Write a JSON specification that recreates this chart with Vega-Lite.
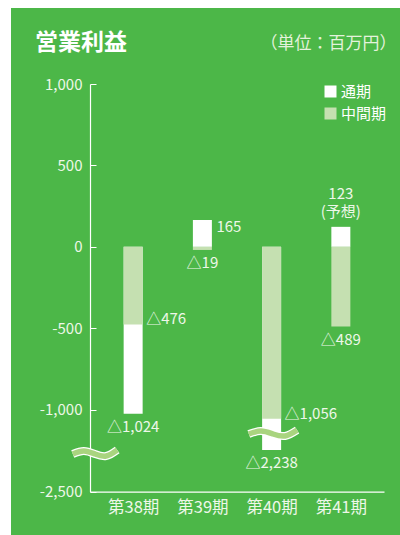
{
  "$schema": "https://vega.github.io/schema/vega-lite/v6.json",
  "width": 389,
  "height": 527,
  "autosize": "none",
  "padding": {"left": 11, "top": 8, "right": 0, "bottom": 0},
  "background": "#ffffff",
  "title": {
    "text": "営業利益",
    "anchor": "start",
    "frame": "group",
    "orient": "top",
    "offset": -34,
    "baseline": "middle",
    "dx": 24,
    "dy": 24,
    "fontSize": 23,
    "fontWeight": "bold",
    "color": "#ffffff",
    "font": "Noto Sans CJK JP"
  },
  "config": {
    "view": {"fill": "#4cb748", "stroke": null},
    "font": "Noto Sans CJK JP",
    "axis": {
      "domainColor": "#ffffff",
      "tickColor": "#ffffff",
      "labelColor": "#eef7e9",
      "labelFontSize": 15,
      "labelFont": "Noto Sans CJK JP",
      "grid": false,
      "labelOverlap": false
    },
    "text": {"font": "Noto Sans CJK JP", "fontSize": 15, "color": "#eef7e9"}
  },
  "datasets": {
    "bars": [
      {"period": "第38期", "idx": 1, "type": "通期", "value": -1024, "label": "△1,024"},
      {"period": "第39期", "idx": 2, "type": "通期", "value": 165, "label": "165"},
      {"period": "第40期", "idx": 3, "type": "通期", "value": -2238, "label": "△2,238"},
      {"period": "第41期", "idx": 4, "type": "通期", "value": 123, "label": "123\n(予想)"},
      {"period": "第38期", "idx": 1, "type": "中間期", "value": -476, "label": "△476"},
      {"period": "第39期", "idx": 2, "type": "中間期", "value": -19, "label": "△19"},
      {"period": "第40期", "idx": 3, "type": "中間期", "value": -1056, "label": "△1,056"},
      {"period": "第41期", "idx": 4, "type": "中間期", "value": -489, "label": "△489"}
    ],
    "breaks": [
      {"grp": "axis", "u": 0.128, "v": -2263},
      {"grp": "axis", "u": 0.288, "v": -2244},
      {"grp": "axis", "u": 0.449, "v": -2263},
      {"grp": "axis", "u": 0.609, "v": -2276},
      {"grp": "axis", "u": 0.770, "v": -2238},
      {"grp": "bar", "u": 2.671, "v": -1149},
      {"grp": "bar", "u": 2.845, "v": -1131},
      {"grp": "bar", "u": 3.020, "v": -1149},
      {"grp": "bar", "u": 3.194, "v": -1161},
      {"grp": "bar", "u": 3.368, "v": -1125}
    ]
  },
  "layer": [
    {
      "data": {"name": "bars"},
      "mark": {"type": "bar", "orient": "vertical", "size": 19},
      "encoding": {
        "x": {
          "field": "idx",
          "type": "quantitative",
          "scale": {"domain": [0.449, 4.551], "range": [79, 373], "nice": false, "zero": false},
          "axis": {
            "orient": "bottom",
            "offset": -43.3,
            "values": [1, 2, 3, 4],
            "labelExpr": "'第' + (37 + datum.value) + '期'",
            "ticks": false,
            "labelPadding": 8,
            "labelBaseline": "top",
            "labelFlush": false,
            "labelFontSize": 16.5,
            "title": null,
            "domainWidth": 1.2
          }
        },
        "y": {
          "field": "value",
          "type": "quantitative",
          "stack": null,
          "scale": {"domain": [-2500, -2238, -1200, 1000], "range": [483.7, 442, 434.3, 76], "nice": false, "zero": false},
          "axis": {
            "orient": "left",
            "offset": -79,
            "values": [1000, 500, 0, -500, -1000, -2500],
            "labelExpr": "datum.value < 0 ? '-' + format(-datum.value, ',') : format(datum.value, ',')",
            "tickSize": -6,
            "labelPadding": 14,
            "labelFlush": false,
            "domainWidth": 1.2,
            "title": "（単位：百万円）",
            "titleAngle": 0,
            "titleAlign": "right",
            "titleBaseline": "middle",
            "titleX": 306,
            "titleY": 35,
            "titleFontSize": 17,
            "titleFontWeight": "normal",
            "titleColor": "#e4f2dc",
            "titleFont": "Noto Sans CJK JP"
          }
        },
        "y2": {"datum": 0},
        "color": {
          "field": "type",
          "type": "nominal",
          "scale": {"domain": ["通期", "中間期"], "range": ["#ffffff", "#c5e0b1"]},
          "legend": {
            "orient": "none",
            "legendX": 312,
            "legendY": 76,
            "title": null,
            "symbolType": "square",
            "symbolSize": 144,
            "symbolStrokeWidth": 0,
            "symbolOpacity": 1,
            "labelFontSize": 15,
            "labelColor": "#ffffff",
            "labelFont": "Noto Sans CJK JP",
            "labelOffset": 3,
            "rowPadding": 6,
            "padding": 0
          }
        }
      }
    },
    {
      "data": {"name": "breaks"},
      "mark": {"type": "line", "interpolate": "natural", "color": "#ffffff", "strokeWidth": 8, "strokeCap": "butt"},
      "encoding": {
        "x": {"field": "u", "type": "quantitative"},
        "y": {"field": "v", "type": "quantitative"},
        "detail": {"field": "grp", "type": "nominal"}
      }
    },
    {
      "data": {"name": "breaks"},
      "mark": {"type": "line", "interpolate": "natural", "color": "#a9d47f", "strokeWidth": 5.5, "strokeCap": "butt"},
      "encoding": {
        "x": {"field": "u", "type": "quantitative"},
        "y": {"field": "v", "type": "quantitative"},
        "detail": {"field": "grp", "type": "nominal"}
      }
    },
    {
      "mark": {"type": "rule", "color": "#ffffff", "strokeWidth": 2},
      "encoding": {
        "x": {"datum": 0.449, "type": "quantitative"},
        "x2": {"datum": 4.551},
        "y": {"datum": 0, "type": "quantitative"}
      }
    },
    {
      "data": {"name": "bars"},
      "transform": [{"filter": "datum.type == '中間期' && (datum.idx == 1 || datum.idx == 3)"}],
      "mark": {"type": "text", "align": "left", "baseline": "middle", "dx": 13, "dy": -5},
      "encoding": {
        "x": {"field": "idx", "type": "quantitative"},
        "y": {"field": "value", "type": "quantitative"},
        "text": {"field": "label"}
      }
    },
    {
      "data": {"name": "bars"},
      "transform": [{"filter": "datum.type == '通期' && datum.idx == 2"}],
      "mark": {"type": "text", "align": "left", "baseline": "middle", "dx": 14, "dy": 7},
      "encoding": {
        "x": {"field": "idx", "type": "quantitative"},
        "y": {"field": "value", "type": "quantitative"},
        "text": {"field": "label"}
      }
    },
    {
      "data": {"name": "bars"},
      "transform": [{"filter": "(datum.type == '通期' && (datum.idx == 1 || datum.idx == 3)) || (datum.type == '中間期' && (datum.idx == 2 || datum.idx == 4))"}],
      "mark": {"type": "text", "align": "center", "baseline": "middle", "dy": 13},
      "encoding": {
        "x": {"field": "idx", "type": "quantitative"},
        "y": {"field": "value", "type": "quantitative"},
        "text": {"field": "label"}
      }
    },
    {
      "data": {"name": "bars"},
      "transform": [{"filter": "datum.type == '通期' && datum.idx == 4"}],
      "mark": {"type": "text", "align": "center", "baseline": "top", "dy": -40, "lineBreak": "\n", "lineHeight": 18},
      "encoding": {
        "x": {"field": "idx", "type": "quantitative"},
        "y": {"field": "value", "type": "quantitative"},
        "text": {"field": "label"}
      }
    }
  ]
}
